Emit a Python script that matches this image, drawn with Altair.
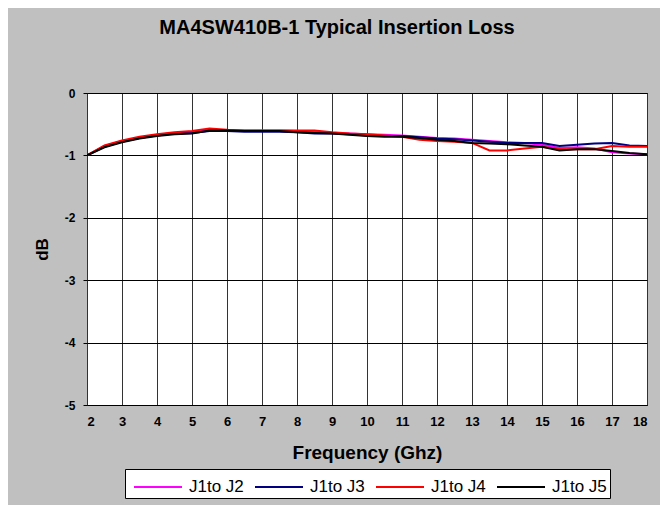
import altair as alt
import pandas as pd

freq = [2, 2.5, 3, 3.5, 4, 4.5, 5, 5.5, 6, 6.5, 7, 7.5, 8, 8.5, 9, 9.5, 10,
        10.5, 11, 11.5, 12, 12.5, 13, 13.5, 14, 14.5, 15, 15.5, 16, 16.5, 17, 17.5, 18]

j1_j2 = [-1.00, -0.85, -0.77, -0.72, -0.67, -0.64, -0.62, -0.59, -0.60, -0.60, -0.60,
         -0.60, -0.61, -0.62, -0.64, -0.65, -0.66, -0.67, -0.68, -0.70, -0.72, -0.73,
         -0.75, -0.77, -0.79, -0.80, -0.83, -0.88, -0.87, -0.89, -0.95, -0.97, -0.98]
j1_j3 = [-1.00, -0.86, -0.78, -0.72, -0.68, -0.65, -0.64, -0.61, -0.61, -0.62, -0.62,
         -0.62, -0.63, -0.65, -0.65, -0.66, -0.68, -0.69, -0.69, -0.71, -0.73, -0.74,
         -0.76, -0.78, -0.80, -0.80, -0.80, -0.85, -0.83, -0.81, -0.80, -0.84, -0.85]
j1_j4 = [-1.00, -0.84, -0.76, -0.70, -0.66, -0.63, -0.61, -0.57, -0.59, -0.60, -0.60,
         -0.60, -0.60, -0.60, -0.63, -0.65, -0.66, -0.68, -0.70, -0.75, -0.77, -0.78,
         -0.80, -0.92, -0.92, -0.89, -0.86, -0.90, -0.90, -0.90, -0.85, -0.86, -0.86]
j1_j5 = [-1.00, -0.87, -0.79, -0.73, -0.69, -0.66, -0.65, -0.60, -0.60, -0.61, -0.61,
         -0.61, -0.63, -0.64, -0.65, -0.67, -0.69, -0.70, -0.70, -0.72, -0.75, -0.77,
         -0.80, -0.81, -0.82, -0.84, -0.86, -0.92, -0.90, -0.90, -0.93, -0.96, -0.98]

series_names = ["J1to J2", "J1to J3", "J1to J4", "J1to J5"]
series_colors = ["#ff00ff", "#000080", "#ff0000", "#000000"]
x_ticks = list(range(2, 19))
y_ticks = [0, -1, -2, -3, -4, -5]

rows = []
for name, vals in zip(series_names, [j1_j2, j1_j3, j1_j4, j1_j5]):
    for f, v in zip(freq, vals):
        rows.append({"Frequency": f, "dB": v, "Series": name})
df = pd.DataFrame(rows)

FONT = "Liberation Sans"

chart = alt.Chart(df).mark_line(strokeWidth=2, clip=True).encode(
    x=alt.X("Frequency:Q",
            scale=alt.Scale(domain=[2, 18], nice=False, zero=False),
            axis=alt.Axis(title="Frequency (Ghz)", values=x_ticks,
                          labelExpr="datum.value + ''",
                          grid=True, gridColor="#333333", gridWidth=1,
                          ticks=False, tickSize=0, domain=False,
                          labelFont=FONT, labelFontSize=13, labelFontWeight="bold",
                          labelColor="black", labelPadding=10,
                          titleFont=FONT, titleFontSize=19, titleFontWeight="bold",
                          titleColor="black", titlePadding=15)),
    y=alt.Y("dB:Q",
            scale=alt.Scale(domain=[-5, 0], nice=False, zero=False),
            axis=alt.Axis(title="dB", values=y_ticks,
                          labelExpr="datum.value + ''",
                          grid=True, gridColor="#000000", gridWidth=1,
                          ticks=True, tickSize=4, tickColor="black", domain=False,
                          labelFont=FONT, labelFontSize=12, labelFontWeight="bold",
                          labelColor="black", labelPadding=8,
                          titleFont=FONT, titleFontSize=17, titleFontWeight="bold",
                          titleColor="black", titlePadding=13)),
    color=alt.Color("Series:N",
                    scale=alt.Scale(domain=series_names, range=series_colors),
                    legend=alt.Legend(title=None, orient="none", legendX=38, legendY=376,
                                      direction="horizontal", columns=4,
                                      symbolType="M-0.643,0H2.786", symbolSize=784,
                                      symbolStrokeWidth=2, labelOffset=31,
                                      labelFont=FONT, labelFontSize=17, labelColor="black",
                                      columnPadding=5, padding=3,
                                      fillColor="white", strokeColor="black")),
).properties(
    width=560,
    height=312,
    background="#c0c0c0",
    padding={"left": 79, "top": 85, "right": 13, "bottom": 100},
    autosize=alt.AutoSizeParams(type="none"),
    title=alt.TitleParams("MA4SW410B-1 Typical Insertion Loss", font=FONT, fontSize=20,
                          fontWeight="bold", color="black", anchor="middle",
                          frame="group", dx=-30, offset=33, baseline="alphabetic"),
).configure_view(fill="white", stroke="black", strokeWidth=1)

chart.save("out.html", embed_options={"renderer": "svg", "actions": False})
